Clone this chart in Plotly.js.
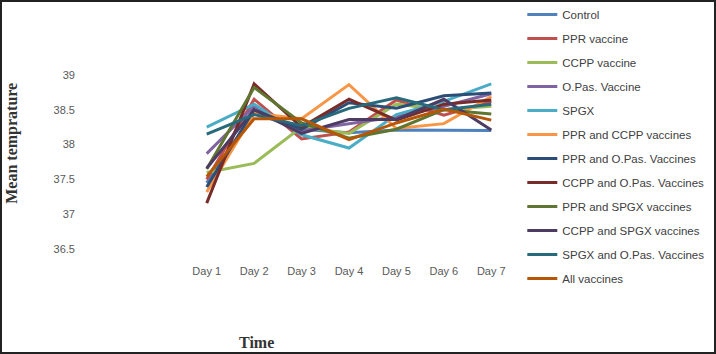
<!DOCTYPE html>
<html>
<head>
<meta charset="utf-8">
<script src="https://cdn.plot.ly/plotly-3.0.1.min.js"></script>
<style>
  html, body { margin: 0; padding: 0; background: #fff; }
  #wrap { position: relative; width: 716px; height: 354px; }
  #chart { width: 716px; height: 354px; }
  #frame { position: absolute; left: 0; top: 0; width: 716px; height: 354px; box-sizing: border-box; border: 2px solid #222; pointer-events: none; }
</style>
</head>
<body>
<div id="wrap"><div id="chart"></div><div id="frame"></div></div>
<script>
const days = ["Day 1", "Day 2", "Day 3", "Day 4", "Day 5", "Day 6", "Day 7"];
const seriesNames = ["Control", "PPR vaccine", "CCPP vaccine", "O.Pas. Vaccine", "SPGX",
  "PPR and CCPP vaccines", "PPR and O.Pas. Vaccines", "CCPP and O.Pas. Vaccines",
  "PPR and SPGX vaccines", "CCPP and SPGX vaccines", "SPGX and O.Pas. Vaccines", "All vaccines"];
const control   = [37.45, 38.45, 38.22, 38.17, 38.21, 38.21, 38.20];
const ppr       = [37.50, 38.65, 38.08, 38.18, 38.64, 38.42, 38.62];
const ccpp      = [37.60, 37.73, 38.25, 38.16, 38.58, 38.50, 38.55];
const opas      = [37.87, 38.55, 38.20, 38.30, 38.40, 38.55, 38.73];
const spgx      = [38.25, 38.58, 38.14, 37.95, 38.43, 38.62, 38.87];
const pprCcpp   = [37.32, 38.45, 38.37, 38.86, 38.23, 38.30, 38.69];
const pprOpas   = [37.39, 38.50, 38.22, 38.60, 38.52, 38.70, 38.74];
const ccppOpas  = [37.16, 38.87, 38.25, 38.65, 38.35, 38.58, 38.64];
const pprSpgx   = [37.65, 38.82, 38.31, 38.09, 38.22, 38.50, 38.44];
const ccppSpgx  = [37.66, 38.50, 38.16, 38.36, 38.36, 38.65, 38.21];
const spgxOpas  = [38.15, 38.43, 38.27, 38.52, 38.67, 38.50, 38.58];
const allVacc   = [37.54, 38.37, 38.37, 38.07, 38.31, 38.51, 38.35];
const yTicks = [36.5, 37, 37.5, 38, 38.5, 39];

const seriesValues = [control, ppr, ccpp, opas, spgx, pprCcpp, pprOpas, ccppOpas, pprSpgx, ccppSpgx, spgxOpas, allVacc];
const colors = ["#4F81BD", "#C0504D", "#9BBB59", "#8064A2", "#4BACC6", "#F79646",
  "#2C4D75", "#772C2A", "#5F7530", "#4D3B62", "#276A7C", "#B65708"];

const traces = seriesNames.map((name, i) => ({
  type: "scatter", mode: "lines", name: name, x: days, y: seriesValues[i],
  line: { color: colors[i], width: 3 }, legendgroup: "g" + i
}));

const layout = {
  width: 716, height: 354,
  margin: { l: 183, r: 201, t: 47, b: 90.5, pad: 0, autoexpand: false },
  paper_bgcolor: "#fff", plot_bgcolor: "#fff",
  font: { family: "Liberation Sans, Arial, sans-serif", size: 11, color: "#595959" },
  showlegend: true,
  legend: {
    x: 1.022, xanchor: "left", y: 1.218, yanchor: "top",
    traceorder: "grouped", tracegroupgap: 5, maxheight: 1,
    font: { family: "Liberation Sans, Arial, sans-serif", size: 11.5, color: "#404040" },
    bgcolor: "rgba(0,0,0,0)"
  },
  xaxis: {
    type: "category", showgrid: false, zeroline: false, showline: false, automargin: false,
    ticks: "", tickfont: { size: 11, color: "#595959" }, ticklabelstandoff: 0,
    range: [-0.5, 6.5]
  },
  yaxis: {
    range: [36.3, 39.4], showgrid: false, zeroline: false, showline: false, automargin: false,
    tickvals: yTicks, ticktext: yTicks.map(String), ticks: "",
    tickfont: { size: 11, color: "#595959" }, ticklabelstandoff: 107
  },
  annotations: [
    { text: "<b>Mean temprature</b>", xref: "paper", yref: "paper",
      x: (12 - 183) / 332, y: (263.5 - 144) / 216.5, xanchor: "center", yanchor: "middle",
      textangle: -90, showarrow: false,
      font: { family: "Liberation Serif, Times New Roman, serif", size: 16, color: "#333" } },
    { text: "<b>Time</b>", xref: "paper", yref: "paper",
      x: (256 - 183) / 332, y: (263.5 - 343) / 216.5, xanchor: "center", yanchor: "middle",
      showarrow: false,
      font: { family: "Liberation Serif, Times New Roman, serif", size: 16, color: "#333" } }
  ]
};

Plotly.newPlot("chart", traces, layout, { displayModeBar: false, staticPlot: true });
</script>
</body>
</html>
